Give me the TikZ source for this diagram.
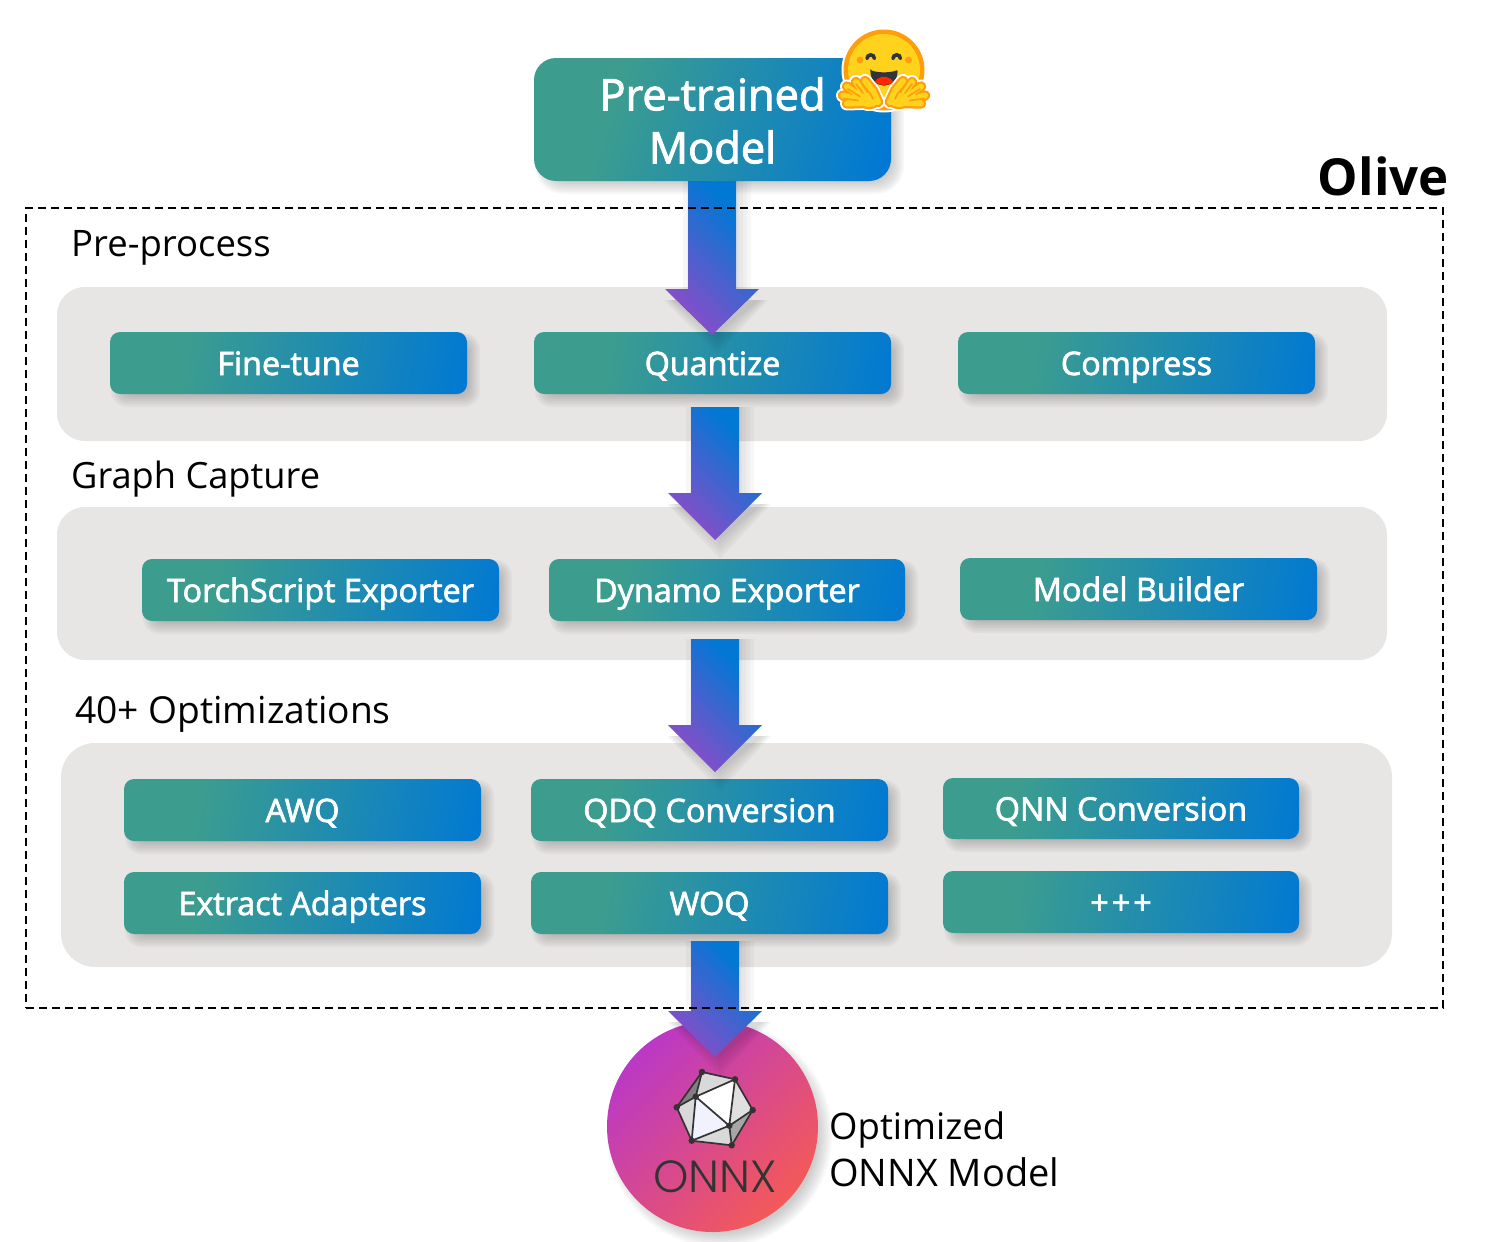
\documentclass[tikz,border=0pt]{standalone}
\usepackage{fontspec}
\setmainfont{Open Sans}
\newfontfamily\semib[FakeBold=2.2]{Open Sans}
\IfFontExistsTF{Poppins Light}{\newfontfamily\onnxf{Poppins Light}}{\newfontfamily\onnxf{Poppins}}
\usetikzlibrary{calc}
\definecolor{cteal}{HTML}{3C9D8F}
\definecolor{cblue}{HTML}{0078D4}
\definecolor{cpurple}{HTML}{8E4BC8}
\definecolor{cmag}{HTML}{B938C8}
\definecolor{cred}{HTML}{F55A55}
\definecolor{cpanel}{HTML}{E7E6E5}
\definecolor{eyel}{HTML}{FFD21E}
\definecolor{eor}{HTML}{FF9D0B}
\definecolor{edark}{HTML}{32343D}
\definecolor{lgdark}{HTML}{333333}
\pgfdeclarehorizontalshading{tealblue}{100bp}{color(0bp)=(cteal); color(33bp)=(cteal); color(80bp)=(cblue); color(100bp)=(cblue)}
\pgfdeclarehorizontalshading{bluepurple}{100bp}{color(0bp)=(cblue); color(30bp)=(cblue); color(76bp)=(cpurple); color(100bp)=(cpurple)}
\pgfdeclarehorizontalshading{magred}{100bp}{color(0bp)=(cmag); color(24bp)=(cmag); color(76bp)=(cred); color(100bp)=(cred)}
\tikzset{
  panel/.style={fill=cpanel,draw=none},
  gradbox/.style={shading=tealblue,shading angle=-10,draw=none,text=white,font=\semib\fontsize{32.3}{36}\selectfont,text height=30pt,text depth=6pt,inner sep=0pt,rounded corners=10pt},
  sect/.style={anchor=base west,inner sep=0pt,font=\fontsize{36.5}{42}\selectfont,text=black},
  blockarrow/.style={shading=bluepurple,shading angle=-135,draw=none},
  dashbox/.style={draw=black,line width=1.8pt,dash pattern=on 8pt off 5pt},
  lgedge/.style={draw=lgdark,line width=1.7pt,line cap=round},
  lgdot/.style={circle,fill=lgdark,inner sep=0pt,minimum size=6.5pt},
}
% soft shadow of a rectangle
\newcommand{\softshadow}[5]{% x1 y1 x2 y2 radius
  \foreach \k in {-6,-4,-2,0,2,4,6}{
    \fill[black,opacity=0.03,rounded corners={#5+max(\k,0)*1pt}] (#1+7-\k,#2+7-\k) rectangle (#3+7+\k,#4+7+\k);
  }}
\newcommand{\gbox}[6]{% name x1 y1 x2 y2 text
  \softshadow{#2}{#3}{#4}{#5}{10pt}
  \node[gradbox,minimum width={(#4-#2)*1pt},minimum height={(#5-#3)*1pt}] (#1) at ({(#2+#4)/2},{(#3+#5)/2}) {#6};}
% block arrow: name, x centre, y top, y neck, y tip
\newcommand{\barrow}[5]{%
  \coordinate (#1top) at (#2,#3); \coordinate (#1tip) at (#2,#5);
  \foreach \k in {-6,-2,2,6,10}{
   \fill[black,opacity=0.03] (#2-24+5-\k,#3) -- (#2+24+5+\k,#3) -- (#2+24+5+\k,{#4+11}) -- ({#2+47+4+0.5*\k},{#4+11}) -- ({#2+5},{#5+7+1.2*\k}) -- ({#2-47+4-0.5*\k},{#4+11}) -- (#2-24+5-\k,{#4+11}) -- cycle;
  }
  \shade[blockarrow] ($(#1top)+(-24,0)$) -- ++(48,0) -- (#2+24,#4) -- (#2+47,#4) -- (#1tip) -- (#2-47,#4) -- (#2-24,#4) -- cycle;}
\begin{document}
\begin{tikzpicture}[x=1pt,y=-1pt]
\useasboundingbox (0,0) rectangle (1494,1242);
% panels
\fill[panel,rounded corners=28pt] (57,287) rectangle (1387,441);
\fill[panel,rounded corners=28pt] (57,507) rectangle (1387,660);
\fill[panel,rounded corners=34pt] (61,743) rectangle (1392,967);
\node[anchor=base east,inner sep=0pt,font=\bfseries\fontsize{51}{56}\selectfont] (olive) at (1449,195.5) {Olive};
\node[sect] (l1) at (71,256) {Pre-process};
\node[sect,font=\fontsize{36.2}{42}\selectfont] (l2) at (71,488) {Graph Capture};
\node[sect,font=\fontsize{37.2}{42}\selectfont] (l3) at (75,723) {40+ Optimizations};
% top box
\softshadow{534}{58}{891}{181}{22pt}
\node[gradbox,shading angle=-19,rounded corners=22pt,minimum width=357pt,minimum height=123pt,align=center,font=\semib\fontsize{43.4}{53}\selectfont,text height=,text depth=] (pre) at (712.5,119.5) {\rule{0pt}{35pt}Pre-trained\\Model};
% boxes
\gbox{ft}{110}{332}{467}{394}{Fine-tune}
\gbox{qz}{534}{332}{891}{394}{Quantize}
\gbox{cp}{958}{332}{1315}{394}{Compress}
\gbox{ts}{142}{559}{499}{621}{TorchScript Exporter}
\gbox{dy}{549}{559}{905}{621}{Dynamo Exporter}
\gbox{mb}{960}{558}{1317}{620}{Model Builder}
\gbox{aw}{124}{779}{481}{841}{AWQ}
\gbox{qd}{531}{779}{888}{841}{QDQ Conversion}
\gbox{qn}{943}{778}{1299}{839}{QNN Conversion}
\gbox{ea}{124}{872}{481}{934}{Extract Adapters}
\gbox{wq}{531}{872}{888}{934}{WOQ}
\gbox{pp}{943}{871}{1299}{933}{+\kern3pt+\kern3pt+}
% ONNX circle
\foreach \k in {-7,-5,-3,-1,1,3,5,7}{\fill[black,opacity=0.028] (712.5+7,1126.5+8) circle ({105.5+\k});}
\node[circle,minimum size=211pt,inner sep=0pt,shading=magred,shading angle=-45] (onnx) at (712.5,1126.5) {};
% logo
\coordinate (v1) at (702,1072); \coordinate (v2) at (735,1079.3); \coordinate (v3) at (752.7,1110);
\coordinate (v4) at (731.7,1145.3); \coordinate (v5) at (691.7,1140.7); \coordinate (v6) at (676.7,1107.3);
\coordinate (a) at (695.7,1096.7); \coordinate (b) at (729.3,1125.7);
\fill[white!85!black] (v1)--(v2)--(a)--cycle;
\fill[white!50!black] (v1)--(a)--(v6)--cycle;
\fill[white!85!black] (v6)--(a)--(v5)--cycle;
\fill[white] (a)--(v2)--(b)--cycle;
\fill[white!95!blue] (a)--(b)--(v5)--cycle;
\fill[white!85!black] (v5)--(b)--(v4)--cycle;
\fill[white!88!black] (v2)--(v3)--(b)--cycle;
\fill[white!65!black] (v3)--(v4)--(b)--cycle;
\draw[lgedge] (v1)--(v2)--(v3)--(v4)--(v5)--(v6)--cycle;
\draw[lgedge] (v6)--(a)--(v1) (a)--(v2) (a)--(v5) (a)--(b) (b)--(v2) (b)--(v3) (b)--(v4) (b)--(v5);
\foreach \p in {v1,v2,v3,v4,v5,v6,a,b}{\node[lgdot] at (\p) {};}
\node[inner sep=0pt,anchor=base,text=lgdark,font=\onnxf\fontsize{45}{50}\selectfont] (onnxt) at (715,1192) {ONNX};
\node[anchor=base west,inner sep=0pt,align=left,font=\fontsize{36.5}{42}\selectfont] (o1) at (829,1139) {Optimized};
\node[anchor=base west,inner sep=0pt,align=left,font=\fontsize{38}{44}\selectfont] (o2) at (829,1186) {ONNX Model};
% arrows
\barrow{A}{712}{181}{289}{335}
\barrow{B}{715}{407}{493}{540}
\barrow{C}{715}{639}{725}{772}
\barrow{D}{715}{941}{1011}{1057}
% Olive frame
\node[dashbox,minimum width=1417pt,minimum height=800pt,inner sep=0pt] (frame) at (734.5,608) {};
% emoji
\begin{scope}
\fill[white] (884,70) circle (42.5);
\fill[eor] (884,70) circle (40.5);
\fill[eyel] (884,70) circle (36);
\fill[eor] (860,60) circle (3.4) (908.5,60) circle (3.4);
\draw[edark,line width=3.6pt,line cap=round] (867,58.5) arc (180:360:3.7) (893,58.5) arc (180:360:3.7);
\fill[edark,rounded corners=1pt] (870.5,70) .. controls (878,73) and (890,73) .. (897.5,70) .. controls (898,79) and (892,85.5) .. (884,85.5) .. controls (876,85.5) and (870,79) .. (870.5,70) -- cycle;
\fill[red!70!orange] (875,82) .. controls (878,75) and (890,75) .. (893,82) .. controls (889,86) and (879,86) .. (875,82) -- cycle;
\foreach \side in {-1,1}{
  \begin{scope}[shift={(884,0)},x={(\side*1pt,0)}]
   \foreach \col/\w in {white/14,eor/10.5,eyel/6}{
   \draw[\col,line width=\w pt,line cap=round,line join=round]
     (-18,97)--(-28,82) (-20,99)--(-37,86.5) (-22,101)--(-41,95.5) (-22,103)--(-37,103.5)
     (-6,102)--(-11,91)--(-19,81);
   \fill[\col] (-15,100) ellipse ({\w/2+7} and {\w/2+4});
   }
   \draw[eor,line width=1.6pt,line cap=round] (-21,93)--(-28,84) (-24,96.5)--(-36,89) (-26,100.5)--(-40,98.5) (-14,93)--(-11,99);
  \end{scope}
 }
\end{scope}
\end{tikzpicture}
\end{document}
